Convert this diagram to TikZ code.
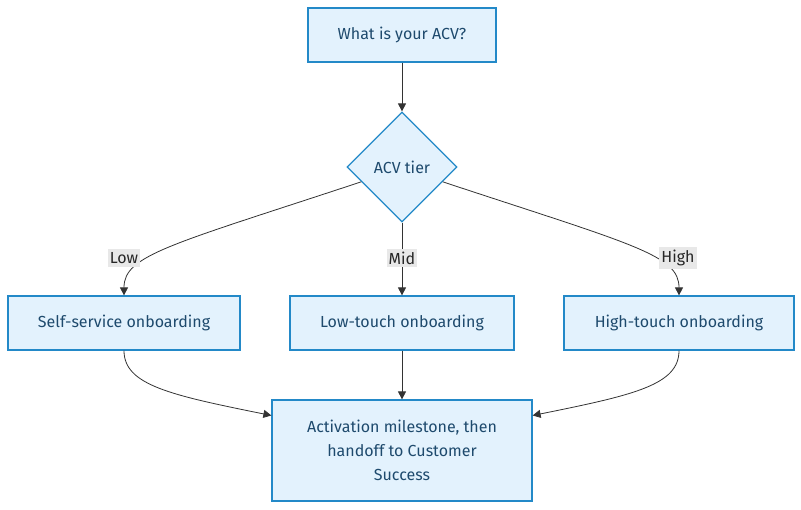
\documentclass[tikz,border=0pt]{standalone}
\usepackage{fontspec}
\setmainfont{Fira Sans}
\usepackage{tikz}
\usetikzlibrary{positioning, shapes.geometric, arrows.meta}
\definecolor{boxfill}{HTML}{E3F2FD}
\definecolor{boxline}{HTML}{2389C8}
\definecolor{boxtext}{HTML}{1E4A6D}
\definecolor{lblfill}{HTML}{E8E8E8}
\definecolor{edge}{HTML}{333333}

\begin{document}
\begin{tikzpicture}[x=1pt,y=-1pt,
  every node/.style={font=\fontsize{16}{24}\selectfont, text=boxtext},
  stepbox/.style={draw=boxline, fill=boxfill, line width=1.2pt, rectangle, inner sep=0pt},
  choice/.style={draw=boxline, fill=boxfill, line width=1.2pt, diamond, minimum width=110pt, minimum height=110pt, inner sep=0pt},
  lbl/.style={fill=lblfill, text=black!85, inner xsep=2pt, inner ysep=3pt},
  arr/.style={draw=edge, line width=0.8pt, -{Triangle[length=8pt,width=8pt]}}]
\useasboundingbox (0,0) rectangle (801,510);

\node (acv) at (402,35) [stepbox, minimum width=188pt, minimum height=54pt] {What is your ACV?};
\node (tier) at (402,167) [choice] {ACV tier};
\node (self) at (124,323) [stepbox, minimum width=232pt, minimum height=54pt] {Self-service onboarding};
\node (lowt) at (402,323) [stepbox, minimum width=224pt, minimum height=54pt] {Low-touch onboarding};
\node (hight) at (679,323) [stepbox, minimum width=230pt, minimum height=54pt] {High-touch onboarding};
\node (act) at (402,450.5) [stepbox, minimum width=260pt, minimum height=101pt, align=center] {Activation milestone, then\\handoff to Customer\\Success};

\draw[arr] (acv) -- (tier);
\draw[arr] (tier.200) .. controls (170,245) and (124,255) .. (self.north);
\draw[arr] (tier) -- (lowt);
\draw[arr] (tier.-20) .. controls (634,245) and (679,255) .. (hight.north);

\node (lowl) at (124,258) [lbl] {Low};
\node (midl) at (402,258) [lbl] {Mid};
\node (highl) at (678,258) [lbl] {High};

\draw[arr] (self.south) .. controls (124,385) and (170,395) .. (act.165);
\draw[arr] (lowt) -- (act);
\draw[arr] (hight.south) .. controls (679,385) and (634,395) .. (act.15);
\end{tikzpicture}
\end{document}
